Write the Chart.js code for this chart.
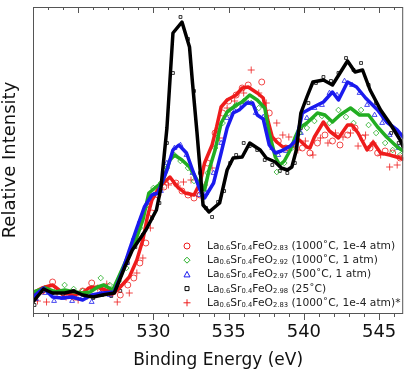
<!DOCTYPE html>
<html>
<head>
<meta charset="utf-8">
<script src="https://cdn.jsdelivr.net/npm/chart.js@4.4.0/dist/chart.umd.min.js"></script>
<style>
  body { margin: 0; background: #fff; }
  #wrap { position: relative; width: 408px; height: 376px; }
  #legend { position: absolute; left: 207px; top: 239px; font-family: 'DejaVu Sans', sans-serif; font-size: 10.7px; color: #222; line-height: 14.2px; white-space: nowrap; }
  #legend div { height: 14.2px; }
  #legend sub { font-size: 6.8px; vertical-align: -1px; line-height: 0; }
</style>
</head>
<body>
<div id="wrap">
  <canvas id="chart" width="408" height="376"></canvas>
  <div id="legend">
    <div>La<sub>0.6</sub>Sr<sub>0.4</sub>FeO<sub>2.83</sub> (1000˚C, 1e-4 atm)</div>
    <div>La<sub>0.6</sub>Sr<sub>0.4</sub>FeO<sub>2.92</sub> (1000˚C, 1 atm)</div>
    <div>La<sub>0.6</sub>Sr<sub>0.4</sub>FeO<sub>2.97</sub> (500˚C, 1 atm)</div>
    <div>La<sub>0.6</sub>Sr<sub>0.4</sub>FeO<sub>2.98</sub> (25˚C)</div>
    <div>La<sub>0.6</sub>Sr<sub>0.4</sub>FeO<sub>2.83</sub> (1000˚C, 1e-4 atm)*</div>
  </div>
</div>
<script>
// binding energy (eV) / relative intensity, smoothed lines
const redLineE = [522.0, 522.6, 523.3, 523.9, 524.6, 525.3, 525.7, 526.3, 526.8, 527.4, 527.8, 528.4, 528.9, 529.3, 529.6, 529.9, 530.4, 531.1, 531.6, 532.1, 532.7, 533.1, 533.4, 533.9, 534.2, 534.5, 534.9, 535.5, 535.9, 536.3, 536.9, 537.3, 537.6, 537.9, 538.2, 538.6, 539.1, 539.4, 539.7, 540.2, 540.4, 540.7, 541.3, 541.7, 542.3, 542.9, 543.2, 543.6, 544.2, 544.6, 545.1, 545.7, 546.4, 546.6];
const redLineI = [20, 25, 28, 21, 18, 20, 25, 26, 23, 20, 26, 36, 53, 73, 96, 113, 126, 136, 126, 120, 118, 130, 150, 168, 186, 206, 213, 218, 225, 226, 220, 215, 193, 176, 171, 166, 166, 170, 173, 166, 165, 176, 191, 182, 175, 188, 188, 180, 163, 171, 160, 158, 155, 154];

const greenLineE = [522.0, 522.8, 523.5, 524.1, 524.8, 525.3, 525.8, 526.3, 526.7, 527.3, 527.9, 528.4, 528.9, 529.3, 529.7, 530.1, 530.6, 531.1, 531.4, 531.9, 532.4, 532.9, 533.4, 533.7, 534.1, 534.5, 534.9, 535.5, 535.9, 536.4, 536.9, 537.4, 537.7, 538.1, 538.4, 538.7, 539.1, 539.4, 539.7, 540.2, 540.9, 541.4, 541.9, 542.4, 543.1, 543.7, 544.3, 544.9, 545.5, 546.2, 546.6];
const greenLineI = [21, 25, 21, 23, 21, 20, 21, 26, 28, 23, 43, 60, 76, 93, 120, 125, 131, 153, 158, 153, 146, 133, 123, 143, 163, 190, 201, 208, 211, 218, 213, 205, 180, 156, 148, 152, 163, 175, 185, 190, 200, 198, 191, 198, 205, 198, 198, 186, 176, 166, 162];

const blueLineE = [522.0, 522.7, 523.3, 523.9, 524.6, 525.3, 525.9, 526.6, 527.4, 527.9, 528.4, 528.9, 529.4, 529.9, 530.3, 530.9, 531.3, 531.7, 532.2, 532.6, 533.1, 533.4, 534.0, 534.5, 534.9, 535.3, 535.7, 536.2, 536.6, 536.9, 537.3, 537.7, 538.1, 538.5, 539.1, 539.5, 539.9, 540.5, 541.3, 541.9, 542.3, 542.9, 543.5, 544.1, 544.9, 545.5, 546.2, 546.6];
const blueLineI = [16, 25, 16, 15, 16, 13, 18, 20, 21, 40, 63, 85, 106, 118, 120, 143, 163, 168, 160, 143, 123, 115, 130, 160, 185, 200, 203, 210, 210, 198, 194, 168, 160, 162, 167, 173, 200, 205, 211, 221, 213, 231, 226, 215, 203, 191, 183, 176];

const blackLineE = [522.0, 522.7, 523.3, 524.1, 524.7, 525.3, 526.0, 526.6, 527.4, 528.1, 528.6, 529.5, 530.2, 530.5, 530.9, 531.3, 531.9, 532.4, 532.6, 532.9, 533.3, 533.7, 534.4, 534.9, 535.3, 535.9, 536.4, 537.1, 537.5, 538.1, 538.5, 538.9, 539.2, 539.5, 539.8, 540.2, 540.6, 541.3, 541.9, 542.4, 542.9, 543.4, 543.9, 544.4, 545.1, 545.7, 546.4, 546.6];
const blackLineI = [11, 24, 20, 20, 22, 18, 16, 18, 20, 46, 63, 83, 103, 125, 185, 280, 291, 266, 230, 180, 108, 101, 110, 143, 155, 156, 170, 163, 155, 151, 145, 143, 146, 163, 200, 216, 231, 233, 228, 240, 252, 241, 243, 223, 203, 190, 173, 166];

// raw data points (markers)
const redCircE = [522.0, 522.6, 523.3, 524.0, 524.7, 525.3, 525.9, 526.6, 527.2, 527.8, 528.3, 528.7, 529.1, 529.5, 529.9, 530.3, 530.7, 531.1, 531.5, 531.9, 532.3, 532.7, 533.1, 533.6, 534.1, 534.6, 535.0, 535.5, 535.9, 536.3, 537.2, 537.7, 538.3, 538.8, 539.4, 539.9, 540.4, 540.9, 541.4, 541.9, 542.4, 542.9, 543.4, 543.9, 544.4, 544.9, 545.4, 545.9, 546.4];
const redCircI = [18, 22, 31, 20, 16, 22, 30, 25, 20, 18, 28, 35, 50, 70, 100, 118, 126, 132, 130, 122, 118, 115, 118, 150, 180, 200, 212, 218, 225, 228, 231, 200, 172, 165, 168, 165, 160, 170, 178, 172, 168, 178, 185, 175, 165, 160, 162, 160, 155];

const redPlusE = [522.3, 522.9, 523.6, 524.2, 525.0, 525.6, 526.3, 526.9, 527.6, 528.4, 528.9, 529.3, 529.8, 530.5, 531.0, 531.6, 532.0, 532.5, 533.4, 533.9, 534.4, 534.9, 535.4, 536.0, 536.5, 537.0, 537.5, 538.2, 538.6, 539.0, 539.6, 540.1, 540.6, 541.1, 541.6, 542.1, 542.6, 543.1, 543.6, 544.1, 544.6, 545.1, 545.7, 546.2];
const redPlusI = [12, 11, 20, 16, 13, 17, 25, 29, 11, 20, 40, 55, 85, 125, 128, 127, 131, 133, 128, 145, 175, 205, 212, 220, 243, 220, 210, 190, 178, 176, 163, 172, 158, 175, 170, 180, 176, 180, 167, 178, 170, 158, 146, 148];

const greenDiaE = [522.2, 522.8, 523.5, 524.1, 524.7, 525.3, 525.9, 526.5, 527.1, 527.7, 528.2, 528.6, 529.1, 529.6, 530.0, 530.5, 530.9, 531.4, 531.8, 532.3, 532.7, 533.2, 533.6, 534.1, 534.6, 535.0, 535.5, 536.0, 536.5, 537.0, 537.5, 538.2, 538.7, 539.2, 539.7, 540.2, 540.7, 541.2, 541.7, 542.3, 542.8, 543.3, 543.8, 544.3, 544.8, 545.4, 545.9, 546.4];
const greenDiaI = [20, 25, 22, 28, 24, 22, 25, 35, 28, 32, 45, 65, 85, 108, 125, 130, 145, 158, 152, 145, 132, 128, 140, 165, 190, 200, 208, 212, 210, 205, 195, 141, 150, 165, 180, 185, 192, 197, 190, 203, 196, 190, 203, 188, 180, 170, 163, 158];

const blueTriE = [522.2, 522.8, 523.4, 524.0, 524.6, 525.3, 525.9, 526.5, 527.1, 527.7, 528.2, 528.7, 529.1, 529.6, 530.0, 530.5, 530.9, 531.4, 531.8, 532.2, 532.6, 533.0, 533.5, 534.0, 534.5, 534.9, 535.4, 535.9, 536.3, 536.8, 537.3, 537.9, 538.3, 538.8, 539.3, 539.8, 540.2, 540.7, 541.2, 541.7, 542.2, 542.7, 543.2, 543.7, 544.2, 544.7, 545.2, 545.7, 546.3];
const blueTriI = [14, 20, 12, 15, 12, 16, 11, 20, 18, 28, 50, 75, 92, 110, 118, 122, 150, 165, 168, 158, 140, 118, 120, 140, 170, 195, 202, 208, 210, 200, 196, 165, 158, 162, 168, 180, 195, 205, 208, 220, 218, 232, 228, 220, 208, 198, 190, 178, 165];

const blackSqE = [522.1, 522.7, 523.3, 524.0, 524.7, 525.4, 526.0, 526.6, 527.2, 527.8, 528.3, 528.8, 529.3, 529.9, 530.4, 530.9, 531.3, 531.8, 532.3, 532.7, 533.1, 533.5, 533.9, 534.3, 534.7, 535.1, 535.5, 536.0, 536.4, 536.9, 537.4, 537.9, 538.4, 538.9, 539.4, 539.8, 540.3, 540.8, 541.3, 541.8, 542.3, 542.8, 543.3, 543.8, 544.3, 544.8, 545.3, 545.8, 546.3];
const blackSqI = [8, 22, 20, 19, 22, 18, 15, 18, 17, 22, 50, 66, 78, 95, 110, 170, 240, 296, 274, 222, 140, 105, 96, 111, 122, 150, 158, 170, 167, 163, 153, 148, 142, 140, 150, 185, 210, 230, 236, 232, 240, 255, 243, 250, 228, 210, 195, 180, 170];

const xTickLabels = [525, 530, 535, 540, 545];

const RED = '#ee1c1c', GREEN = '#22ad22', BLUE = '#1a1aee', BLACK = '#000';

function pts(xs, ys) { return xs.map((x, i) => ({ x: x, y: ys[i] })); }

function lineSet(xs, ys, color, order) {
  return { type: 'line', data: pts(xs, ys), borderColor: color, borderWidth: 3.5, borderJoinStyle: 'round', borderCapStyle: 'round', pointRadius: 0, tension: 0, fill: false, order: order };
}
function markSet(xs, ys, color, style, r, order) {
  return { type: 'scatter', data: pts(xs, ys), borderColor: color, backgroundColor: 'rgba(0,0,0,0)', pointStyle: style, pointRadius: r, pointBorderWidth: 0.8, showLine: false, order: order };
}

const legendMarks = [
  { color: RED, style: 'circle' },
  { color: GREEN, style: 'diamond' },
  { color: BLUE, style: 'triangle' },
  { color: BLACK, style: 'square' },
  { color: RED, style: 'plus' }
];

function drawMark(ctx, m, x, y) {
  ctx.save();
  ctx.strokeStyle = m.color;
  ctx.lineWidth = 1;
  ctx.beginPath();
  if (m.style === 'circle') ctx.arc(x, y, 3, 0, Math.PI * 2);
  else if (m.style === 'diamond') { ctx.moveTo(x, y - 3); ctx.lineTo(x + 3, y); ctx.lineTo(x, y + 3); ctx.lineTo(x - 3, y); ctx.closePath(); }
  else if (m.style === 'triangle') { ctx.moveTo(x, y - 3); ctx.lineTo(x + 3, y + 2.5); ctx.lineTo(x - 3, y + 2.5); ctx.closePath(); }
  else if (m.style === 'square') ctx.rect(x - 2, y - 2, 4, 4);
  else { ctx.moveTo(x - 3.5, y); ctx.lineTo(x + 3.5, y); ctx.moveTo(x, y - 3.5); ctx.lineTo(x, y + 3.5); }
  ctx.stroke();
  ctx.restore();
}

const framePlugin = {
  id: 'frame',
  afterDraw(chart) {
    const ctx = chart.ctx, a = chart.chartArea, xs = chart.scales.x;
    ctx.save();
    ctx.strokeStyle = '#555';
    ctx.lineWidth = 1;
    ctx.strokeRect(a.left + 0.5, a.top + 0.5, a.right - a.left - 1, a.bottom - a.top);
    ctx.beginPath();
    for (let v = 522; v <= 546; v++) {
      const px = Math.round(xs.getPixelForValue(v)) + 0.5;
      const len = v % 5 === 0 ? 6 : 3;
      ctx.moveTo(px, a.top); ctx.lineTo(px, a.top + len);
      ctx.moveTo(px, a.bottom); ctx.lineTo(px, a.bottom + len + 1);
    }
    ctx.stroke();
    ctx.restore();
    legendMarks.forEach((m, i) => drawMark(ctx, m, 187, 246 + i * 14.2));
  }
};

new Chart(document.getElementById('chart').getContext('2d'), {
  data: {
    datasets: [
      lineSet(blackLineE, blackLineI, BLACK, 0),
      lineSet(blueLineE, blueLineI, BLUE, 1),
      lineSet(greenLineE, greenLineI, GREEN, 2),
      lineSet(redLineE, redLineI, RED, 3),
      markSet(redCircE, redCircI, RED, 'circle', 3, 4),
      markSet(greenDiaE, greenDiaI, GREEN, 'rectRot', 2.8, 5),
      markSet(blueTriE, blueTriI, BLUE, 'triangle', 2.8, 6),
      markSet(blackSqE, blackSqI, BLACK, 'rect', 2, 7),
      markSet(redPlusE, redPlusI, RED, 'cross', 3.5, 8)
    ]
  },
  options: {
    responsive: false,
    animation: false,
    layout: { padding: { top: 7, right: 4, left: 0, bottom: 0 } },
    plugins: { legend: { display: false }, tooltip: { enabled: false } },
    scales: {
      x: {
        type: 'linear', min: 522, max: 546.6,
        grid: { display: false, drawTicks: false },
        border: { display: false },
        afterBuildTicks: s => { s.ticks = xTickLabels.map(v => ({ value: v })); },
        ticks: { padding: 9, color: '#111', font: { family: 'DejaVu Sans', size: 18 } },
        title: { display: true, text: 'Binding Energy (eV)', color: '#111', font: { family: 'DejaVu Sans', size: 17 }, padding: { top: 0, bottom: 5 } },
        afterFit: s => { s.height = 63; }
      },
      y: {
        type: 'linear', min: 0, max: 306,
        grid: { display: false, drawTicks: false },
        border: { display: false },
        ticks: { display: false },
        title: { display: true, text: 'Relative Intensity', color: '#111', font: { family: 'DejaVu Sans', size: 18 }, padding: 0 },
        afterFit: s => { s.width = 33; }
      }
    }
  },
  plugins: [framePlugin]
});
</script>
</body>
</html>
